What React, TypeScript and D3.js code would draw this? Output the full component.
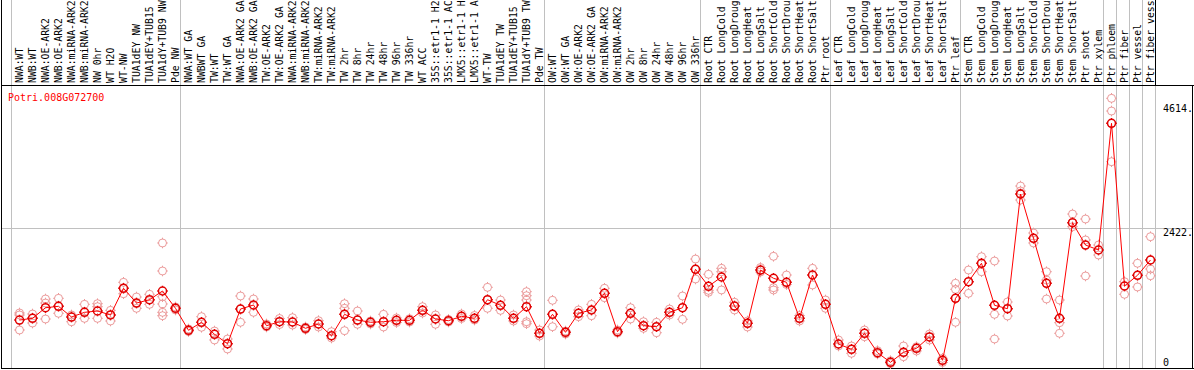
import React from "react";
import * as d3 from "d3";

const title = "Potri.008G072700";

const categories: string[] = [
  "NWA:WT", "NWB:WT", "NWA:OE-ARK2", "NWB:OE-ARK2", "NWA:miRNA-ARK2", "NWB:miRNA-ARK2",
  "NW 0hr", "WT H2O", "WT-NW", "TUA1dEY NW", "TUA1dEY+TUB15", "TUA1dY+TUB9 NW", "Pde NW",
  "NWA:WT GA", "NWBWT GA", "TW:WT", "TW:WT GA", "NWA:OE-ARK2 GA", "NWB:OE-ARK2 GA",
  "TW:OE-ARK2", "TW:OE-ARK2 GA", "NWA:miRNA-ARK2", "NWB:miRNA-ARK2", "TW:miRNA-ARK2",
  "TW:miRNA-ARK2", "TW 2hr", "TW 8hr", "TW 24hr", "TW 48hr", "TW 96hr", "TW 336hr", "WT ACC",
  "35S::etr1-1 H2", "35S::etr1-1 AC", "LMX5::etr1-1 H", "LMX5::etr1-1 A", "WT-TW",
  "TUA1dEY TW", "TUA1dEY+TUB15", "TUA1dY+TUB9 TW", "Pde TW",
  "OW:WT", "OW:WT GA", "OW:OE-ARK2", "OW:OE-ARK2 GA", "OW:miRNA-ARK2", "OW:miRNA-ARK2",
  "OW 2hr", "OW 8hr", "OW 24hr", "OW 48hr", "OW 96hr", "OW 336hr",
  "Root CTR", "Root LongCold", "Root LongDroug", "Root LongHeat", "Root LongSalt",
  "Root ShortCold", "Root ShortDrou", "Root ShortHeat", "Root ShortSalt", "Ptr root",
  "Leaf CTR", "Leaf LongCold", "Leaf LongDroug", "Leaf LongHeat", "Leaf LongSalt",
  "Leaf ShortCold", "Leaf ShortDrou", "Leaf ShortHeat", "Leaf ShortSalt", "Ptr leaf",
  "Stem CTR", "Stem LongCold", "Stem LongDroug", "Stem LongHeat", "Stem LongSalt",
  "Stem ShortCold", "Stem ShortDrou", "Stem ShortHeat", "Stem ShortSalt", "Ptr shoot",
  "Ptr xylem", "Ptr phloem", "Ptr fiber", "Ptr vessel", "Ptr fiber vess",
];

const groupSizes: number[] = [13, 28, 12, 10, 10, 11, 1, 1, 1, 1];

const means: number[] = [
  804, 834, 1021, 1046, 857, 940, 963, 893, 1364, 1104, 1162, 1316, 1011,
  623, 764, 552, 386, 998, 1069, 704, 774, 769, 658, 734, 527, 905, 804, 764, 774, 799, 799,
  975, 822, 792, 870, 834, 1162, 1064, 834, 1039, 570,
  905, 587, 923, 981, 1275, 598, 923, 704, 686, 940, 1021, 1699,
  1399, 1563, 1051, 746, 1686, 1540, 1469, 834, 1598, 1081,
  381, 288, 570, 228, 58, 235, 305, 505, 93, 1187,
  1480, 1805, 1064, 1004, 3027, 2246, 1452, 834, 2521, 2127, 2039,
  4274, 1404, 1593, 1863,
];

const replicates: number[][] = [
  [928, 893, 628], [910, 840, 751], [1175, 1104, 822], [1187, 1051, 923], [893, 857, 774],
  [1081, 946, 834], [1092, 1039, 834], [975, 893, 787], [1469, 1369, 1268], [1210, 1104, 1011],
  [1258, 1157, 1081], [2163, 1669, 1215, 1087, 940, 880], [1034, 1011, 981],
  [646, 623, 602], [863, 764, 676], [610, 552, 452], [469, 386, 293], [1228, 998, 764],
  [1175, 1069, 940], [734, 704, 681], [831, 774, 725], [845, 769, 716], [681, 658, 637],
  [792, 734, 681], [598, 527, 487], [1092, 1011, 905, 616], [963, 804, 729], [787, 764, 734],
  [905, 774, 681], [840, 799, 760], [827, 799, 769], [1039, 975, 928], [893, 822, 729],
  [813, 792, 769], [910, 870, 831], [884, 834, 804], [1381, 1162, 1011], [1157, 1064, 975],
  [893, 834, 787], [1304, 1233, 1157, 1039, 774, 739], [628, 570, 522],
  [1152, 905, 686], [610, 587, 557], [981, 923, 863], [1081, 981, 880], [1364, 1275, 1198],
  [628, 598, 575], [1021, 923, 822], [774, 704, 658], [764, 686, 580], [998, 940, 893],
  [1228, 1021, 817], [1880, 1699, 1528],
  [1611, 1328, 1293], [1716, 1656, 1334], [1117, 1051, 981], [787, 746, 681], [1730, 1686, 1651],
  [1928, 1374, 1334], [1598, 1469, 1431], [884, 834, 787], [1716, 1598, 1422], [1157, 1081, 1011],
  [452, 381, 346], [346, 288, 217], [628, 570, 510], [263, 228, 205], [86, 58, 34],
  [346, 235, 157], [333, 305, 258], [557, 505, 452], [129, 93, 55], [1452, 1346, 1187, 764],
  [1686, 1480, 1275], [1921, 1805, 1656], [1845, 1064, 905, 469], [1122, 1004, 875],
  [3168, 3080, 3027, 2921], [2339, 2246, 2163], [1656, 1510, 1452, 1175], [1157, 834, 757, 570],
  [2674, 2521, 2450], [2586, 2216, 2127, 1581], [2127, 2039, 1951],
  [4715, 4491, 4274, 3597], [1480, 1404, 1258], [1805, 1593, 1387], [2274, 1863, 1704, 1586],
];

const yTicks: number[] = [0, 2422, 4614];
const gridValues: number[] = [2422];

const W = 1194;
const H = 370;
const PLOT_LEFT = 11;
const PLOT_RIGHT = 1155;
const PLOT_TOP = 85;
const PLOT_BOTTOM = 368;
const MONO = "'DejaVu Sans Mono', monospace";

function markerPath(cx: number, cy: number, r: number): string {
  const t = 1.3;
  return (
    `M${cx + r},${cy}A${r},${r} 0 1,1 ${cx - r},${cy}A${r},${r} 0 1,1 ${cx + r},${cy}` +
    `M${cx},${cy - r - t}L${cx},${cy - r + 0.3}` +
    `M${cx},${cy + r + t}L${cx},${cy + r - 0.3}` +
    `M${cx - r - t},${cy}L${cx - r + 0.3},${cy}` +
    `M${cx + r + t},${cy}L${cx + r - 0.3},${cy}`
  );
}

export default function App() {
  const x = d3.scaleBand<string>().domain(categories.map((c, i) => String(i))).range([PLOT_LEFT, PLOT_RIGHT]).padding(0);
  const px = (i: number) => (x(String(i)) as number) + 8.5;
  const y = d3.scaleLinear().domain([0, 4950]).range([365.6, PLOT_TOP]);

  const line = d3
    .line<number>()
    .x((_, i) => px(i))
    .y((v) => y(v));

  const boundaries: number[] = [0];
  groupSizes.reduce((acc, s) => {
    boundaries.push(acc + s);
    return acc + s;
  }, 0);
  const bx = (k: number) => PLOT_LEFT + k * x.bandwidth();

  return (
    <div style={{ position: "absolute", left: 0, top: 0 }}>
      <svg width={W} height={H} style={{ display: "block", background: "#fff" }}>
        {/* group separators */}
        {boundaries.map((k) => (
          <line key={"b" + k} x1={bx(k)} x2={bx(k)} y1={0} y2={PLOT_BOTTOM}
            stroke={k === categories.length ? "#000" : "#c0c0c0"} strokeWidth={1}
            shapeRendering="crispEdges" />
        ))}
        <line x1={bx(categories.length)} x2={bx(categories.length)} y1={PLOT_TOP} y2={PLOT_BOTTOM}
          stroke="#c0c0c0" strokeWidth={1} shapeRendering="crispEdges" />
        {/* horizontal grid */}
        {gridValues.map((v) => (
          <line key={"g" + v} x1={1} x2={1193} y1={Math.round(y(v)) + 0.5} y2={Math.round(y(v)) + 0.5}
            stroke="#c0c0c0" strokeWidth={1} shapeRendering="crispEdges" />
        ))}
        {/* frame */}
        <line x1={1.5} x2={1.5} y1={0} y2={PLOT_BOTTOM + 1} stroke="#000" strokeWidth={1} shapeRendering="crispEdges" />
        <line x1={1} x2={1194} y1={PLOT_TOP + 0.5} y2={PLOT_TOP + 0.5} stroke="#000" strokeWidth={1} shapeRendering="crispEdges" />
        <line x1={1} x2={1194} y1={PLOT_BOTTOM + 0.5} y2={PLOT_BOTTOM + 0.5} stroke="#000" strokeWidth={1} shapeRendering="crispEdges" />
        <line x1={1192.5} x2={1192.5} y1={PLOT_TOP} y2={PLOT_BOTTOM + 1} stroke="#000" strokeWidth={1} shapeRendering="crispEdges" />

        {/* category labels */}
        {categories.map((c, i) => (
          <text key={"l" + i} transform={`translate(${px(i) + 3.5},${PLOT_TOP - 2}) rotate(-90)`}
            fontFamily={MONO} fontSize={9.8} fill="#000">
            {c}
          </text>
        ))}

        {/* title */}
        <text x={8} y={101} fontFamily={MONO} fontSize={10} fill="#ff0000">{title}</text>

        {/* y tick labels */}
        {yTicks.map((v) => (
          <text key={"t" + v} x={1163} y={Math.min(y(v) + 4, 362)} dominantBaseline="central"
            fontFamily={MONO} fontSize={10} fill="#000">
            {v === 0 ? "0" : v + "."}
          </text>
        ))}

        {/* replicates */}
        <g fill="none" stroke="#eb9a9a" strokeWidth={1}>
          {replicates.map((reps, i) =>
            reps.map((v, j) => <path key={`r${i}-${j}`} d={markerPath(px(i), y(v), 4)} />)
          )}
        </g>

        {/* mean line */}
        <path d={line(means) || ""} fill="none" stroke="#ff0000" strokeWidth={1} />

        {/* mean markers */}
        <g fill="none" stroke="#e00000" strokeWidth={1.5}>
          {means.map((v, i) => (
            <path key={"m" + i} d={markerPath(px(i), y(v), 4)} />
          ))}
        </g>
      </svg>
    </div>
  );
}
